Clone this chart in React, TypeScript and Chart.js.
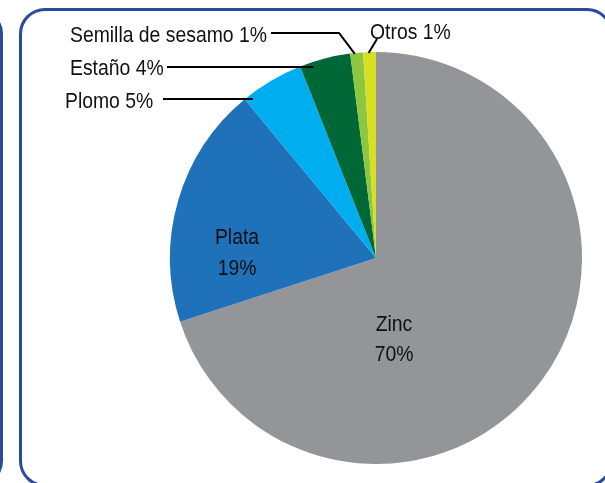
import React, { useEffect, useRef } from "react";
import { Chart, registerables } from "chart.js";

Chart.register(...registerables);

const categories = ["Zinc", "Plata", "Plomo", "Estaño", "Semilla de sesamo", "Otros"];
const values = [70, 19, 5, 4, 1, 1];
const sliceColors = ["#939598", "#1f71ba", "#00aeef", "#006837", "#8dc63f", "#d7df23"];

const W = 605;
const H = 483;

function hasNarrow(ctx: CanvasRenderingContext2D) {
  ctx.font = '40px "Liberation Sans Narrow", monospace';
  const a = ctx.measureText("Semilla de sesamo 1%").width;
  ctx.font = "40px monospace";
  const b = ctx.measureText("Semilla de sesamo 1%").width;
  return Math.abs(a - b) > 0.5;
}

const labelPlugin = {
  id: "labelPlugin",
  afterDatasetsDraw(chart: any) {
    const ctx: CanvasRenderingContext2D = chart.ctx;
    const meta = chart.getDatasetMeta(0);
    const arcs = meta.data;
    const narrow = hasNarrow(ctx);
    const sx = narrow ? 1 : 0.88;
    const font = narrow ? '24px "Liberation Sans Narrow"' : '22px "Liberation Sans", Arial, sans-serif';
    const txt = (s: string, x: number, y: number, align: CanvasTextAlign) => {
      ctx.save();
      ctx.translate(x, y);
      ctx.scale(sx, 1);
      ctx.font = font;
      ctx.fillStyle = "#111111";
      ctx.textAlign = align;
      ctx.textBaseline = "alphabetic";
      ctx.fillText(s, 0, 0);
      ctx.restore();
    };
    const pct = (i: number) => values[i] + "%";
    const cx = arcs[0].x;
    const cy = arcs[0].y;
    const R = arcs[0].outerRadius;
    const midPt = (i: number, rr: number) => {
      const a = (arcs[i].startAngle + arcs[i].endAngle) / 2;
      return [cx + Math.cos(a) * rr, cy + Math.sin(a) * rr];
    };
    const hitX = (y: number, rr: number) => cx - Math.sqrt(rr * rr - (y - cy) * (y - cy));

    // inside labels
    txt(categories[0], 394, 331, "center");
    txt(pct(0), 394, 361, "center");
    txt(categories[1], 237, 244, "center");
    txt(pct(1), 237, 275, "center");

    // outside labels
    txt(categories[4] + " " + pct(4), 70, 42, "left");
    txt(categories[3] + " " + pct(3), 70, 75, "left");
    txt(categories[2] + " " + pct(2), 65, 108, "left");
    txt(categories[5] + " " + pct(5), 370, 39, "left");

    ctx.save();
    ctx.strokeStyle = "#000000";
    ctx.lineWidth = 2;
    // Semilla
    const s = midPt(4, R - 2);
    ctx.beginPath();
    ctx.moveTo(271, 33);
    ctx.lineTo(339, 33);
    ctx.lineTo(s[0] - 2, s[1] - 1);
    ctx.stroke();
    // Estaño
    ctx.beginPath();
    ctx.moveTo(167, 67);
    ctx.lineTo(hitX(67, R - 5), 67);
    ctx.stroke();
    // Plomo
    ctx.beginPath();
    ctx.moveTo(163, 99);
    ctx.lineTo(hitX(99, R - 5), 99);
    ctx.stroke();
    // Otros
    const o = midPt(5, R - 2);
    ctx.beginPath();
    ctx.moveTo(o[0] - 1, o[1] - 1);
    ctx.lineTo(377, 39);
    ctx.stroke();
    ctx.restore();
  },
};

export default function App() {
  const ref = useRef<HTMLCanvasElement | null>(null);
  useEffect(() => {
    if (!ref.current) return;
    const chart = new Chart(ref.current, {
      type: "pie",
      data: {
        labels: categories,
        datasets: [
          {
            data: values,
            backgroundColor: sliceColors,
            borderWidth: 0,
          },
        ],
      },
      options: {
        responsive: false,
        animation: false,
        layout: { padding: { left: 170, right: 23, top: 52, bottom: 19 } },
        plugins: {
          legend: { display: false },
          tooltip: { enabled: false },
        },
      },
      plugins: [labelPlugin],
    });
    return () => chart.destroy();
  }, []);

  const border = "3px solid #2c4a9c";
  return (
    <div
      style={{
        position: "fixed",
        left: 0,
        top: 0,
        width: W,
        height: H,
        overflow: "hidden",
        background: "#ffffff",
      }}
    >
      <div
        style={{
          position: "absolute",
          left: -300,
          top: 8,
          width: 303,
          height: 479,
          border,
          borderRadius: 26,
          boxSizing: "border-box",
        }}
      />
      <div
        style={{
          position: "absolute",
          left: 19,
          top: 8,
          width: 594,
          height: 479,
          border,
          borderRadius: 26,
          boxSizing: "border-box",
        }}
      />
      <canvas
        ref={ref}
        width={W}
        height={H}
        style={{ position: "absolute", left: 0, top: 0, width: W, height: H }}
      />
    </div>
  );
}
